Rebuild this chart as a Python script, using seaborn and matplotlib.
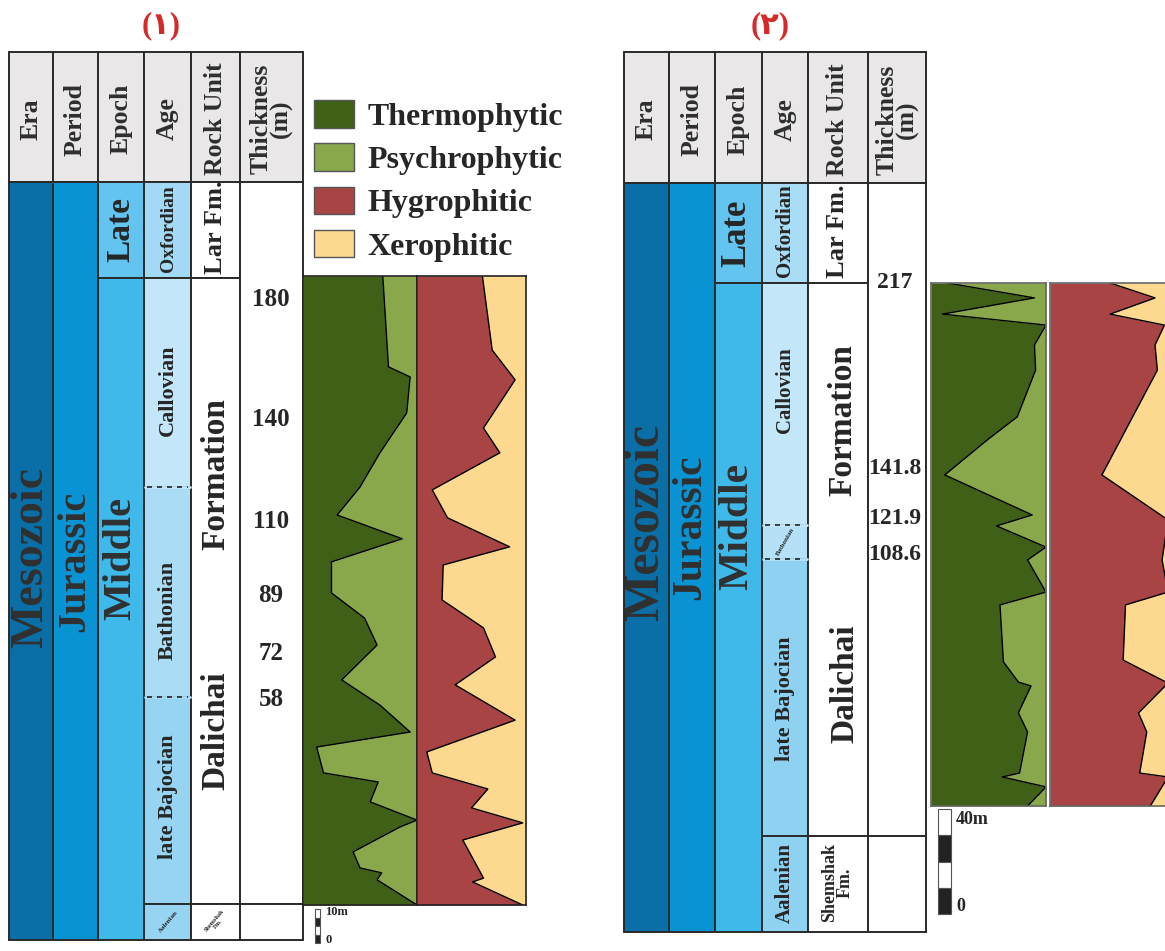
import matplotlib.pyplot as plt
import seaborn as sns
from matplotlib.patches import Rectangle, Patch

# ---------------- data ----------------
legend_labels = ['Thermophytic', 'Psychrophytic', 'Hygrophitic', 'Xerophitic']
palette = ['#405f17', '#88a84b', '#a94444', '#fdd88f']

header_labels = ['Era', 'Period', 'Epoch', 'Age', 'Rock Unit', 'Thickness\n(m)']

# section 1 (depth in m above base, fraction of the left class)
p1_thermo_depth = [180, 154.0, 151.1, 140.8, 129.4, 119.6, 111.6, 104.8, 98.2, 89.3,
                   82.1, 74.4, 64.4, 57.2, 49.5, 45.2, 37.8, 35.2, 29.5, 24.3,
                   22.3, 15.2, 10.6, 9.2, 7.2, 0]
p1_thermo = [0.70, 0.75, 0.94, 0.91, 0.675, 0.50, 0.30, 0.87, 0.25, 0.25,
             0.54, 0.65, 0.34, 0.675, 0.94, 0.12, 0.18, 0.66, 0.59, 1.0,
             0.85, 0.44, 0.50, 0.69, 0.65, 1.0]
p1_hygro_depth = [180, 158.8, 150.3, 136.5, 129.4, 118.8, 110.8, 102.5, 97.3, 87.3,
                  79.3, 71.0, 63.0, 52.9, 43.8, 37.8, 33.2, 27.8, 23.5, 18.6,
                  7.7, 6.6, 0]
p1_hygro = [0.60, 0.69, 0.90, 0.61, 0.76, 0.14, 0.28, 0.85, 0.24, 0.23,
            0.61, 0.72, 0.35, 0.90, 0.09, 0.14, 0.65, 0.50, 0.97, 0.42,
            0.61, 0.51, 0.97]
p1_thickness = ['180', '140', '110', '89', '72', '58']

# section 2
p2_thermo_depth = [200, 194.3, 188.1, 183.9, 176.3, 166.7, 148.8, 140.0, 126.6, 111.3,
                   107.1, 99.0, 94.1, 81.8, 76.9, 55.1, 47.4, 45.9, 35.6, 28.3,
                   12.6, 11.1, 7.3, 0]
p2_thermo = [0.14, 0.90, 0.10, 1.0, 0.90, 0.91, 0.75, 0.49, 0.12, 0.88,
             0.57, 1.0, 0.84, 1.0, 0.60, 0.63, 0.76, 0.87, 0.76, 0.84,
             0.77, 0.62, 1.0, 0.84]
p2_hygro_depth = [200, 194.3, 188.1, 183.9, 176.3, 166.7, 126.6, 109.4, 94.1, 81.8,
                  76.9, 55.8, 47.0, 35.6, 28.3, 12.6, 11.1, 0]
p2_hygro = [0.51, 0.89, 0.51, 0.97, 0.89, 0.91, 0.44, 1.0, 0.95, 1.0,
            0.64, 0.62, 1.0, 0.75, 0.82, 0.76, 1.0, 0.85]
p2_thickness = ['217', '141.8', '121.9', '108.6']

# ---------------- figure ----------------
sns.set_theme(style="white")
plt.rcParams['font.family'] = ['Liberation Serif', 'DejaVu Sans']

W, H = 1165, 951
fig = plt.figure(figsize=(W / 100, H / 100), dpi=100)
base = fig.add_axes([0, 0, 1, 1])
base.set_xlim(0, W)
base.set_ylim(H, 0)
base.axis('off')

EDGE = '#2a2a2a'
TXT = '#262626'


def cell(x0, x1, y0, y1, color):
    base.add_patch(Rectangle((x0, y0), x1 - x0, y1 - y0, facecolor=color,
                             edgecolor=EDGE, lw=1.4, zorder=1))


def vtext(x, y, s, size, weight='bold', rot=90, **kw):
    base.text(x, y, s, rotation=rot, ha='center', va='center', fontsize=size,
              fontweight=weight, color=kw.pop('color', TXT), zorder=3, **kw)


def dash(x0, x1, y):
    base.plot([x0 + 3, x1 - 3], [y, y], ls=(0, (3, 3)), color='#222', lw=1.2, zorder=2)


def profile(x0, x1, y0, y1, depth, frac, c_lo, c_hi, top, edge='#222'):
    ax = fig.add_axes([x0 / W, 1 - y1 / H, (x1 - x0) / W, (y1 - y0) / H])
    ax.fill_betweenx(depth, 0, frac, color=c_lo, lw=0)
    ax.fill_betweenx(depth, frac, 1, color=c_hi, lw=0)
    sns.lineplot(x=frac, y=depth, orient='y', sort=False, estimator=None,
                 color='black', lw=1, ax=ax)
    ax.set_xlim(0, 1)
    ax.set_ylim(0, top)
    ax.set_xticks([])
    ax.set_yticks([])
    ax.set_xlabel('')
    ax.set_ylabel('')
    for s in ax.spines.values():
        s.set_color(edge)
        s.set_linewidth(1.2)
    return ax


def header(cols, y0, y1):
    mid = (y0 + y1) / 2
    for i, lab in enumerate(header_labels):
        cell(cols[i], cols[i + 1], y0, y1, '#e9e7e7')
        xc = (cols[i] + cols[i + 1]) / 2
        vtext(xc, mid + 2, lab, 18.5, weight='bold', linespacing=0.8, color='#2e2e2e')


def scale_bar(x0, x1, y0, y1, top_lab, size):
    step = (y1 - y0) / 4
    for k in range(4):
        c = 'white' if k % 2 == 0 else '#222'
        base.add_patch(Rectangle((x0, y0 + k * step), x1 - x0, step, facecolor=c,
                                 edgecolor='#555', lw=0.8))
    base.text(x1 + 5, y0 + step * 0.4, top_lab, fontsize=size, fontweight='bold',
              color=TXT, va='center', ha='left')
    base.text(x1 + 5, y1 - step * 0.3, '0', fontsize=size, fontweight='bold',
              color=TXT, va='center', ha='left')


# ===== section 1 =====
c1 = [9, 53, 98, 144, 191, 240, 303]
base.text(161, 26, '(١)', color='#d42a2a', fontsize=22, fontweight='bold',
          ha='center', va='center')
header(c1, 52, 182)
cell(c1[0], c1[1], 182, 940, '#0b6fa7')
cell(c1[1], c1[2], 182, 940, '#0a93d3')
cell(c1[2], c1[3], 182, 278, '#62c4ef')
cell(c1[2], c1[3], 278, 940, '#3fb8ea')
cell(c1[3], c1[4], 182, 278, '#a2d9f4')
cell(c1[3], c1[4], 278, 487, '#c3e7f9')
cell(c1[3], c1[4], 487, 697, '#aadcf5')
cell(c1[3], c1[4], 697, 904, '#96d4f2')
cell(c1[3], c1[4], 904, 940, '#96d4f2')
cell(c1[4], c1[5], 182, 278, 'white')
cell(c1[4], c1[5], 278, 904, 'white')
cell(c1[4], c1[5], 904, 940, 'white')
cell(c1[5], c1[6], 182, 904, 'white')
cell(c1[5], c1[6], 904, 940, 'white')
# hide internal boundaries that are dashed in the original
base.plot([c1[3] + 1, c1[4] - 1], [487, 487], color='#c3e7f9', lw=2, zorder=1.5)
base.plot([c1[3] + 1, c1[4] - 1], [697, 697], color='#aadcf5', lw=2, zorder=1.5)
dash(c1[3], c1[4], 487)
dash(c1[3], c1[4], 697)

vtext(31, 557, 'Mesozoic', 33, color='#303030')
vtext(75, 561, 'Jurassic', 29, color='#303030')
vtext(121, 558, 'Middle', 29, color='#303030')
vtext(121, 230, 'Late', 24)
vtext(168, 229, 'Oxfordian', 14)
vtext(168, 390, 'Callovian', 16)
vtext(168, 610, 'Bathonian', 16)
vtext(168, 797, 'late Bajocian', 16)
vtext(168, 922, 'Aalenian', 5, rot=50)
vtext(216, 227, 'Lar Fm.', 19)
vtext(216, 474, 'Formation', 24)
vtext(216, 731, 'Dalichai', 24)
vtext(216, 922, 'Shemshak\nFm.', 4.5, rot=50, linespacing=0.9)
for lab, yy in zip(p1_thickness, [300, 420, 522, 595, 653, 700]):
    base.text(271, yy, lab, fontsize=18, fontweight='bold', color=TXT,
              ha='center', va='center')

profile(303, 417, 276, 905, p1_thermo_depth, p1_thermo, palette[0], palette[1], 180)
profile(417, 526, 276, 905, p1_hygro_depth, p1_hygro, palette[2], palette[3], 180)
scale_bar(315, 320, 909, 943, '10m', 9)

handles = [Patch(facecolor=c, edgecolor='#555', lw=1) for c in palette]
base.legend(handles, legend_labels, loc='upper left', bbox_to_anchor=(314, 100),
            bbox_transform=base.transData, frameon=False, borderpad=0,
            borderaxespad=0, handlelength=1.25, handleheight=0.95,
            handletextpad=0.42, labelspacing=0.36,
            prop={'family': 'Liberation Serif', 'weight': 'bold', 'size': 23})

# ===== section 2 =====
c2 = [624, 669, 715, 762, 808, 868, 926]
base.text(770, 26, '(٢)', color='#d42a2a', fontsize=22, fontweight='bold',
          ha='center', va='center')
header(c2, 52, 183)
cell(c2[0], c2[1], 183, 932, '#0b6fa7')
cell(c2[1], c2[2], 183, 932, '#0a93d3')
cell(c2[2], c2[3], 183, 283, '#62c4ef')
cell(c2[2], c2[3], 283, 932, '#3fb8ea')
cell(c2[3], c2[4], 183, 283, '#a9ddf5')
cell(c2[3], c2[4], 283, 525, '#c3e7f9')
cell(c2[3], c2[4], 525, 559, '#b5e1f7')
cell(c2[3], c2[4], 559, 836, '#8fd1f1')
cell(c2[3], c2[4], 836, 932, '#8fd1f1')
cell(c2[4], c2[5], 183, 283, 'white')
cell(c2[4], c2[5], 283, 836, 'white')
cell(c2[4], c2[5], 836, 932, 'white')
cell(c2[5], c2[6], 183, 836, 'white')
cell(c2[5], c2[6], 836, 932, 'white')
base.plot([c2[3] + 1, c2[4] - 1], [525, 525], color='#c3e7f9', lw=2, zorder=1.5)
base.plot([c2[3] + 1, c2[4] - 1], [559, 559], color='#b5e1f7', lw=2, zorder=1.5)
dash(c2[3], c2[4], 525)
dash(c2[3], c2[4], 559)

vtext(646, 522, 'Mesozoic', 36, color='#303030')
vtext(690, 527, 'Jurassic', 30, color='#303030')
vtext(737, 526, 'Middle', 30, color='#303030')
vtext(737, 233, 'Late', 25)
vtext(785, 231, 'Oxfordian', 15)
vtext(785, 390, 'Callovian', 15)
vtext(785, 542, 'Bathonian', 5, rot=60)
vtext(785, 699, 'late Bajocian', 16)
vtext(785, 883, 'Aalenian', 15)
vtext(837, 231, 'Lar Fm.', 19)
vtext(843, 420, 'Formation', 24)
vtext(845, 684, 'Dalichai', 24)
vtext(837, 883, 'Shemshak\nFm.', 13, linespacing=0.9)
for lab, yy in zip(p2_thickness, [283, 468, 518, 555]):
    base.text(895, yy, lab, fontsize=17, fontweight='bold', color=TXT,
              ha='center', va='center')

profile(931, 1046, 283, 806, p2_thermo_depth, p2_thermo, palette[0], palette[1], 200, edge='#666')
profile(1050, 1168, 283, 806, p2_hygro_depth, p2_hygro, palette[2], palette[3], 200, edge='#666')
scale_bar(938, 951, 809, 914, '40m', 13)

fig.savefig('out.png', dpi=100)
